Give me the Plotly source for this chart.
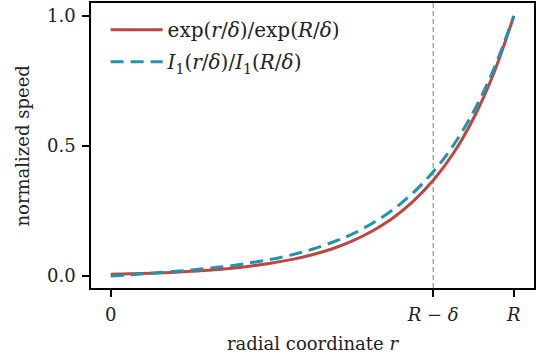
import plotly.graph_objects as go

# radial coordinate in units of R; delta = R/5
r = [0.00, 0.05, 0.10, 0.15, 0.20, 0.25, 0.30, 0.35, 0.40, 0.45, 0.50,
     0.55, 0.60, 0.65, 0.70, 0.75, 0.80, 0.85, 0.90, 0.95, 1.00]
exp_ratio = [0.007, 0.009, 0.011, 0.014, 0.018, 0.023, 0.030, 0.039, 0.050, 0.064, 0.082,
             0.105, 0.135, 0.174, 0.223, 0.287, 0.368, 0.472, 0.607, 0.779, 1.000]
bessel_ratio = [0.000, 0.005, 0.011, 0.017, 0.023, 0.031, 0.040, 0.052, 0.065, 0.082, 0.103,
                0.130, 0.162, 0.204, 0.255, 0.320, 0.401, 0.503, 0.632, 0.795, 1.000]
R_minus_delta = 0.8
x_tickvals = [0.0, 0.8, 1.0]
x_ticktext = ["0", "<i>R</i> − <i>δ</i>", "<i>R</i>"]
y_tickvals = [0.0, 0.5, 1.0]
y_ticktext = ["0.0", "0.5", "1.0"]

FONT = "DejaVu Serif"
FS = 18
red = "#bf4640"
teal = "#2491ad"

fig = go.Figure()
fig.add_trace(go.Scatter(
    x=r, y=exp_ratio, mode="lines", line=dict(color=red, width=3, shape="spline"),
    name="exp(<i>r</i>/<i>δ</i>)/exp(<i>R</i>/<i>δ</i>)", legendgroup="a"))
fig.add_trace(go.Scatter(
    x=r, y=bessel_ratio, mode="lines",
    line=dict(color=teal, width=3, dash="13px,7px", shape="spline"),
    name="<i>I</i><sub>1</sub>(<i>r</i>/<i>δ</i>)/<i>I</i><sub>1</sub>(<i>R</i>/<i>δ</i>)",
    legendgroup="b"))

fig.add_vline(x=R_minus_delta, line=dict(color="#999999", width=1.3, dash="5px,3px"), layer="below")

axis_common = dict(
    showline=True, linecolor="black", linewidth=1.5, mirror=True,
    ticks="outside", ticklen=7, tickwidth=1.5, tickcolor="black",
    showgrid=False, zeroline=False,
    tickfont=dict(family=FONT, size=FS, color="#222"),
)
fig.update_xaxes(range=[-0.049, 1.05], tickvals=x_tickvals, ticktext=x_ticktext,
                 ticklabelstandoff=3,
                 title=dict(text="radial coordinate <i>r</i>", font=dict(family=FONT, size=FS, color="#222"), standoff=13),
                 **axis_common)
fig.update_yaxes(range=[-0.046, 1.05], tickvals=y_tickvals, ticktext=y_ticktext,
                 ticklabelstandoff=3, **axis_common)

fig.add_annotation(text="normalized speed", xref="paper", yref="paper",
                   x=-0.1535, y=0.5, xanchor="center", yanchor="middle",
                   textangle=-90, showarrow=False,
                   font=dict(family=FONT, size=FS, color="#222"))

fig.update_layout(
    width=546, height=364,
    margin=dict(l=91, r=12, t=1, b=76),
    paper_bgcolor="white", plot_bgcolor="white",
    font=dict(family=FONT, size=FS, color="#222"),
    legend=dict(x=0.033, y=0.975, xanchor="left", yanchor="top",
                bgcolor="rgba(255,255,255,0)", borderwidth=0,
                font=dict(family=FONT, size=20, color="#222"),
                itemwidth=52, tracegroupgap=3, traceorder="grouped"),
)

fig.write_html("out.html")
